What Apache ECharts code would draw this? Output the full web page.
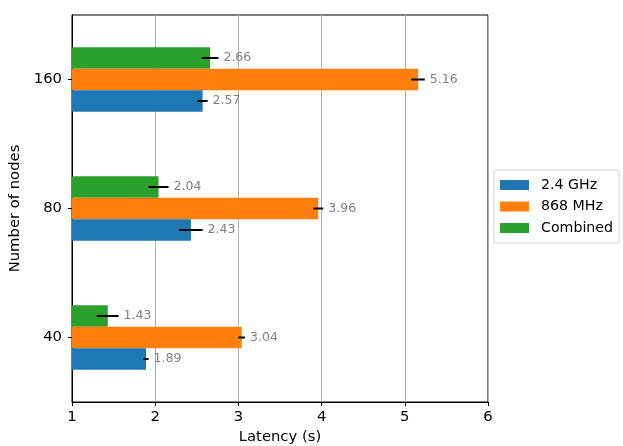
<!DOCTYPE html>
<html>
<head>
<meta charset="utf-8">
<script src="https://cdn.jsdelivr.net/npm/echarts@6/dist/echarts.min.js"></script>
<style>
  html, body { margin: 0; padding: 0; background: #fff; }
  #chart { width: 623px; height: 446px; }
</style>
</head>
<body>
<div id="chart"></div>
<script>
// Latency per network size, mean with error bars
const categories = ['40', '80', '160'];
const seriesNames = ['2.4 GHz', '868 MHz', 'Combined'];
const ghz24 = [1.89, 2.43, 2.57];
const mhz868 = [3.04, 3.96, 5.16];
const combined = [1.43, 2.04, 2.66];
const ghz24Err = [0.03, 0.14, 0.06];
const mhz868Err = [0.04, 0.06, 0.08];
const combinedErr = [0.13, 0.12, 0.10];
const xTicks = [1, 2, 3, 4, 5, 6];

const colors = ['#1f77b4', '#ff7f0e', '#2ca02c'];
const FONT = 'DejaVu Sans';

const values = [ghz24, mhz868, combined];
const errors = [ghz24Err, mhz868Err, combinedErr];

// one bar series per band; listed top-down so 2.4 GHz sits lowest in each group
const barSeries = [2, 1, 0].map(k => ({
  name: seriesNames[k],
  type: 'bar',
  data: values[k],
  barWidth: '16.6667%',
  barGap: '0%',
  itemStyle: { color: colors[k] },
  z: 2
}));

// error bars and value labels, drawn at each bar's slot in the band
const errSeries = values.map((vals, k) => ({
  type: 'custom',
  z: 5,
  silent: true,
  data: vals.map((v, i) => [v, i, errors[k][i]]),
  encode: { x: 0, y: 1 },
  renderItem: function (params, api) {
    const v = api.value(0);
    const cat = api.value(1);
    const e = api.value(2);
    const band = api.size([0, 1])[1];
    const barH = band / 6;
    const c = api.coord([v, cat]);
    const y = c[1] + (1 - k) * barH;
    const x0 = api.coord([v - e, cat])[0];
    const x1 = api.coord([v + e, cat])[0];
    return {
      type: 'group',
      children: [
        {
          type: 'line',
          shape: { x1: x0, y1: y, x2: x1, y2: y },
          style: { stroke: '#000', lineWidth: 2 }
        },
        {
          type: 'text',
          style: {
            x: x1 + 5,
            y: y,
            text: v.toFixed(2),
            fill: '#808080',
            font: '12.5px "' + FONT + '"',
            verticalAlign: 'middle',
            align: 'left'
          }
        }
      ]
    };
  }
}));

const chart = echarts.init(document.getElementById('chart'), null, { renderer: 'canvas' });
chart.setOption({
  animation: false,
  backgroundColor: '#fff',
  textStyle: { fontFamily: FONT },
  grid: {
    left: 72, right: 135, top: 15, bottom: 44,
    outerBoundsMode: 'none',
    containLabel: false,
    show: true, borderColor: '#000', borderWidth: 1, backgroundColor: 'transparent'
  },
  legend: {
    orient: 'vertical',
    data: seriesNames,
    left: 494, top: 170,
    itemWidth: 29, itemHeight: 10,
    itemGap: 7.5,
    icon: 'rect',
    padding: [8, 6, 8, 6],
    borderColor: '#d0d0d0', borderWidth: 1, borderRadius: 3,
    textStyle: { fontFamily: FONT, fontSize: 14.2, color: '#000', padding: [0, 0, 0, 7] }
  },
  xAxis: {
    type: 'value',
    min: xTicks[0], max: xTicks[xTicks.length - 1], interval: 1,
    name: 'Latency (s)', nameLocation: 'middle', nameGap: 28,
    nameTextStyle: { fontFamily: FONT, fontSize: 14.8, color: '#000' },
    axisLine: { show: true, lineStyle: { color: '#000', width: 1 } },
    axisTick: { show: true, length: 4, lineStyle: { color: '#000' } },
    axisLabel: { fontFamily: FONT, fontSize: 14.8, color: '#000', margin: 8 },
    splitLine: { show: true, lineStyle: { color: '#b0b0b0', width: 1 } }
  },
  yAxis: {
    type: 'category',
    data: categories,
    name: 'Number of nodes', nameLocation: 'middle', nameGap: 41,
    nameTextStyle: { fontFamily: FONT, fontSize: 14.8, color: '#000' },
    axisLine: { show: true, lineStyle: { color: '#000', width: 1 } },
    axisTick: { show: true, length: 4, alignWithLabel: true, lineStyle: { color: '#000' } },
    axisLabel: { fontFamily: FONT, fontSize: 14.8, color: '#000', margin: 10 },
    splitLine: { show: false }
  },
  series: barSeries.concat(errSeries)
});
</script>
</body>
</html>
